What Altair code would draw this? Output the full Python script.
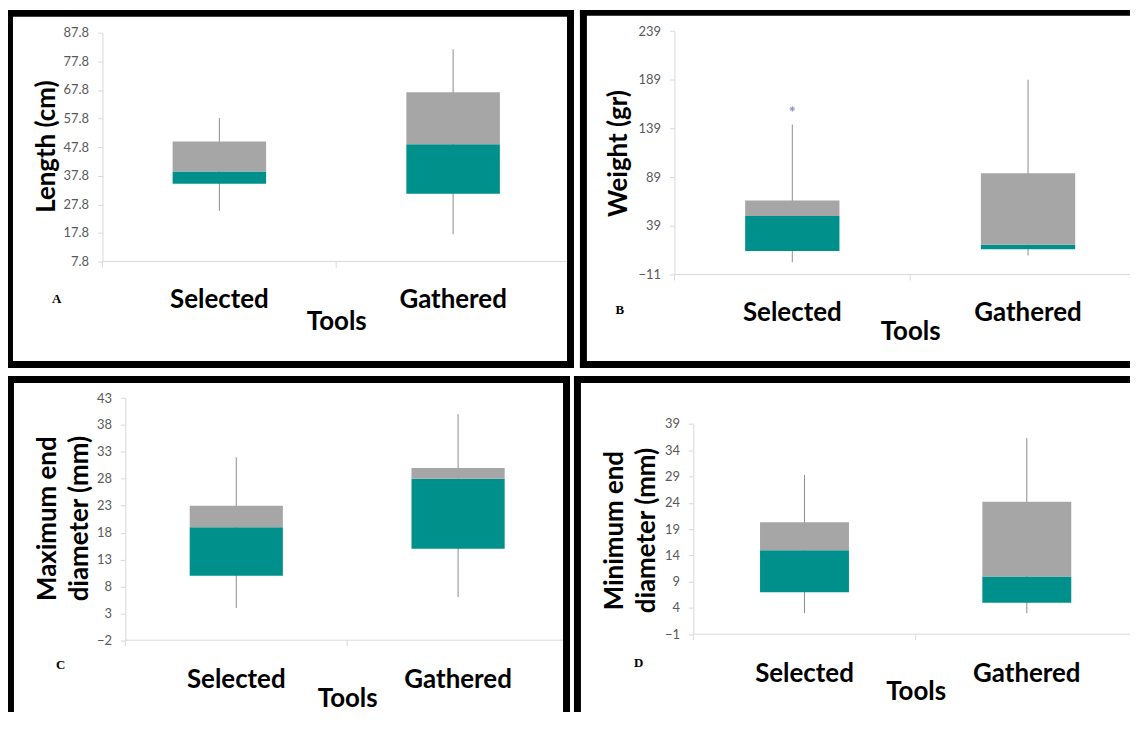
import altair as alt
import pandas as pd

tools = ["Selected", "Gathered"]

# Panel A: Length (cm)
len_min = [25.5, 17.3]
len_q1 = [35.0, 31.5]
len_med = [39.3, 48.8]
len_q3 = [49.8, 67.0]
len_max = [58.0, 82.0]
len_ticks = [7.8, 17.8, 27.8, 37.8, 47.8, 57.8, 67.8, 77.8, 87.8]

# Panel B: Weight (gr)
wt_min = [1.6, 8.5]
wt_q1 = [13.0, 15.0]
wt_med = [49.0, 19.5]
wt_q3 = [65.0, 93.0]
wt_max = [143.0, 189.0]
wt_ticks = [-11, 39, 89, 139, 189, 239]
wt_outlier_tool = ["Selected"]
wt_outlier_val = [159.0]

# Panel C: Maximum end diameter (mm)
maxd_min = [4.0, 6.0]
maxd_q1 = [10.0, 15.0]
maxd_med = [19.0, 28.0]
maxd_q3 = [23.0, 30.0]
maxd_max = [32.0, 40.0]
maxd_ticks = [-2, 3, 8, 13, 18, 23, 28, 33, 38, 43]

# Panel D: Minimum end diameter (mm)
mind_min = [3.0, 3.0]
mind_q1 = [7.0, 5.0]
mind_med = [15.0, 10.0]
mind_q3 = [20.3, 24.2]
mind_max = [29.3, 36.3]
mind_ticks = [-1, 4, 9, 14, 19, 24, 29, 34, 39]

TEAL = "#00908b"
GREY = "#a6a6a6"
WHISK = "#8c8c8c"
AXIS = "#d9d9d9"
FONT = "Lato"

OFF = 8          # page margin: view coordinates = page pixels - OFF
VW, VH = 1128, 706

one = pd.DataFrame({"k": [0]})


def frame_piece(x1, x2, y1, y2):
    return alt.Chart(one).mark_rect(color="black", strokeWidth=0).encode(
        x=alt.value(x1 - OFF), x2=alt.value(x2 - OFF),
        y=alt.value(y1 - OFF), y2=alt.value(y2 - OFF)
    )


def panel(mins, q1s, meds, q3s, maxs, ticks, fmt, ytitle, letter, g,
          out_tool=None, out_val=None, band=0.4):
    df = pd.DataFrame({"tool": tools, "lo": mins, "q1": q1s, "med": meds,
                       "q3": q3s, "hi": maxs})
    px0 = g["x0"] - OFF
    py0 = g["top"] - OFF
    py1 = g["bot"] - OFF
    bw = g["bw"]
    xscale = alt.Scale(domain=tools, range=[px0, px0 + bw],
                       paddingInner=0, paddingOuter=0)
    xaxis = alt.Axis(orient="bottom", domain=False, ticks=False, grid=False,
                     labelAngle=0, offset=py1 - VH,
                     labelFont=FONT, labelFontSize=26, labelFontWeight="bold",
                     labelColor="black", labelBaseline="middle",
                     labelPadding=g["lab"], title="Tools", titleFont=FONT,
                     titleFontSize=26, titleFontWeight="bold", titleColor="black",
                     titleX=px0 + bw / 2, titleY=g["tit"], titleBaseline="middle",
                     titleAlign="center")
    yscale = alt.Scale(domain=[ticks[0], ticks[-1]], range=[py1, py0],
                       nice=False, zero=False)
    yaxis = alt.Axis(orient="left", values=ticks, format=fmt, grid=False,
                     domainColor=AXIS, offset=-px0,
                     tickColor=AXIS, tickSize=5, labelColor="#595959",
                     labelFont=FONT, labelFontSize=13, labelPadding=9,
                     title=ytitle, titleFont=FONT, titleFontSize=26,
                     titleFontWeight="bold", titleColor="black",
                     titleX=g["tx"] - g["x0"], titleY=g["ty"] - OFF, titleAngle=270,
                     titleBaseline="middle", titleAlign="center",
                     titleLineHeight=32)
    X = alt.X("tool:N", scale=xscale, axis=xaxis, sort=tools)

    whisk = alt.Chart(df).mark_rule(color=WHISK, strokeWidth=1).encode(
        x=X, y=alt.Y("lo:Q", scale=yscale, axis=yaxis), y2="hi:Q")
    low = alt.Chart(df).mark_bar(color=TEAL, width=alt.RelativeBandSize(band)).encode(
        x=X, y=alt.Y("q1:Q", scale=yscale, axis=yaxis), y2="med:Q")
    up = alt.Chart(df).mark_bar(color=GREY, width=alt.RelativeBandSize(band)).encode(
        x=X, y=alt.Y("med:Q", scale=yscale, axis=yaxis), y2="q3:Q")
    xline = alt.Chart(one).mark_rule(color=AXIS, strokeWidth=1).encode(
        x=alt.value(px0), x2=alt.value(g["xend"] - OFF), y=alt.value(py1))
    xticks = alt.Chart(df).mark_rule(color=AXIS, strokeWidth=1).encode(
        x=alt.X("tool:N", scale=xscale, axis=xaxis, sort=tools, bandPosition=0),
        y=alt.value(py1), y2=alt.value(py1 + 6))
    lab = alt.Chart(one).mark_text(
        text=letter, font="Liberation Serif", fontWeight="bold", fontSize=13,
        align="center", baseline="middle", color="black").encode(
        x=alt.value(g["letter"][0] - OFF), y=alt.value(g["letter"][1] - OFF))
    layers = [whisk, low, up]
    if out_tool is not None:
        odf = pd.DataFrame({"tool": out_tool, "val": out_val})
        layers.append(alt.Chart(odf).mark_point(
            shape="M-1,0L1,0M0,-1L0,1M-0.7,-0.7L0.7,0.7M-0.7,0.7L0.7,-0.7",
            size=30, filled=False, color="#5b63b0", strokeWidth=1).encode(
            x=X, y=alt.Y("val:Q", scale=yscale, axis=yaxis)))
    layers += [xline, xticks, lab]
    for piece in g["frame"]:
        layers.append(frame_piece(*piece))
    return alt.layer(*layers)


# page-pixel geometry of each framed panel
geoA = dict(x0=103, top=31, bot=261, bw=470, xend=570,
            tx=47, ty=145, letter=(57, 299), lab=38, tit=60,
            frame=[(8, 13, 8, 368), (8, 577, 8, 15), (570, 577, 8, 368),
                   (8, 577, 361, 368)])
geoB = dict(x0=678, top=29.3, bot=274, bw=474, xend=1136,
            tx=622, ty=152, letter=(623, 310), lab=38, tit=57,
            frame=[(583, 590, 8, 368), (583, 1136, 8, 14), (583, 1136, 361, 368)])
geoC = dict(x0=126, top=398.3, bot=641.7, bw=446, xend=566,
            tx=48, ty=519, letter=(61, 667), lab=40, tit=59,
            frame=[(8, 573, 376, 383), (8, 14, 376, 714), (566, 573, 376, 714)])
geoD = dict(x0=697, top=424.3, bot=635.7, bw=447, xend=1136,
            tx=618, ty=531, letter=(642, 665), lab=39.5, tit=58,
            frame=[(577, 1136, 376, 383), (577, 584, 376, 714)])

pA = panel(len_min, len_q1, len_med, len_q3, len_max, len_ticks, ".1f",
           "Length (cm)", "A", geoA)
pB = panel(wt_min, wt_q1, wt_med, wt_q3, wt_max, wt_ticks, "d",
           "Weight (gr)", "B", geoB, wt_outlier_tool, wt_outlier_val)
pC = panel(maxd_min, maxd_q1, maxd_med, maxd_q3, maxd_max, maxd_ticks, "d",
           ["Maximum end", "diameter (mm)"], "C", geoC, band=0.42)
pD = panel(mind_min, mind_q1, mind_med, mind_q3, mind_max, mind_ticks, "d",
           ["Minimum end", "diameter (mm)"], "D", geoD)

chart = alt.layer(pA, pB, pC, pD).resolve_scale(
    x="independent", y="independent"
).resolve_axis(
    x="independent", y="independent"
).properties(
    width=VW, height=VH, autosize="none", padding=0, background="white",
).configure_view(strokeWidth=0)

chart.save("out.html", embed_options={"renderer": "svg", "actions": False})
